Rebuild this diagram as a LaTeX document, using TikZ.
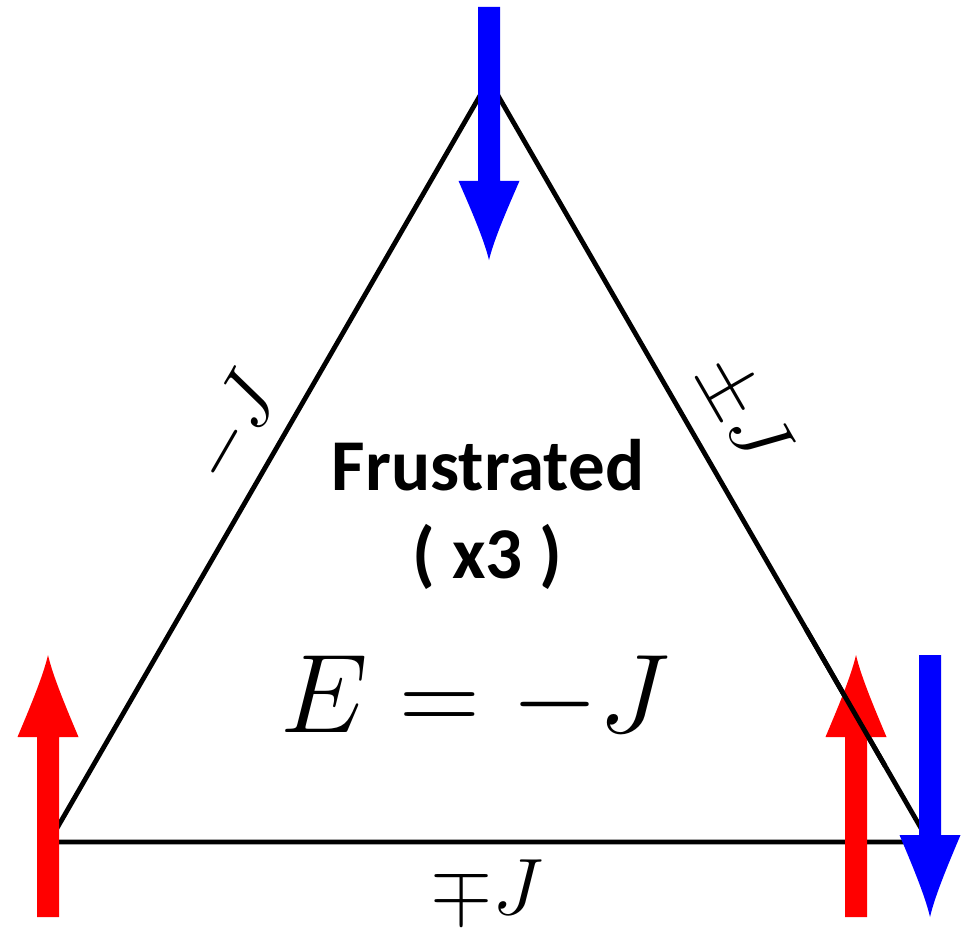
\RequirePackage{fix-cm}
\documentclass[tikz,border=0pt]{standalone}
\usepackage{fontspec}
\newfontfamily\carlito{Carlito}
\usetikzlibrary{calc}
\definecolor{spinblue}{RGB}{0,0,255}
\definecolor{spinred}{RGB}{255,0,0}
\tikzset{
  edge/.style={draw=black, line width=4.8pt, line join=round},
  pics/spinarrow/.style={code={
    \fill[#1] (-11,0) -- (-11,-180) -- (-30.5,-180)
      .. controls (-20,-205) and (-5,-240) .. (0,-262)
      .. controls (5,-240) and (20,-205) .. (30.5,-180)
      -- (11,-180) -- (11,0) -- cycle;
  }},
  edgelabel/.style={font=\fontsize{80}{90}\selectfont, inner sep=0pt},
  boldtext/.style={font=\carlito\bfseries\fontsize{73}{88}\selectfont, inner sep=0pt}
}
\begin{document}
\begin{tikzpicture}[x=1pt, y=-1pt]
\useasboundingbox (0,0) rectangle (969,928);
% triangle
\coordinate (T) at (489,80);
\coordinate (L) at (49,842);
\coordinate (R) at (929,842);
\draw[edge] (L) -- (T) -- (R) -- cycle;
% spins
\pic at (48,917) {spinarrow=spinred};
\pic[rotate=180, yscale=0.966] at (489,7) {spinarrow=spinblue};
\pic at (856,917) {spinarrow=spinred};
\draw[edge] ($(T)!0.72!(R)$) -- ($(T)!0.9!(R)$);
\pic[rotate=180] at (930,655) {spinarrow=spinblue};
% labels
\node[edgelabel, rotate=60] (lj) at (234,428) {$-J$};
\node[edgelabel, rotate=-60] (rj) at (742,410) {$\pm J$};
\node[edgelabel, anchor=base] (bj) at (487,914) {$\mp J$};
\node[boldtext, anchor=base] (fr) at (488,490) {Frustrated};
\node[boldtext, anchor=base] (x3) at (487.5,578) {( x3 )};
\node[font=\fontsize{112}{122}\selectfont, inner sep=0pt, anchor=base] (en) at (475,732) {$E=-J$};
\end{tikzpicture}
\end{document}
